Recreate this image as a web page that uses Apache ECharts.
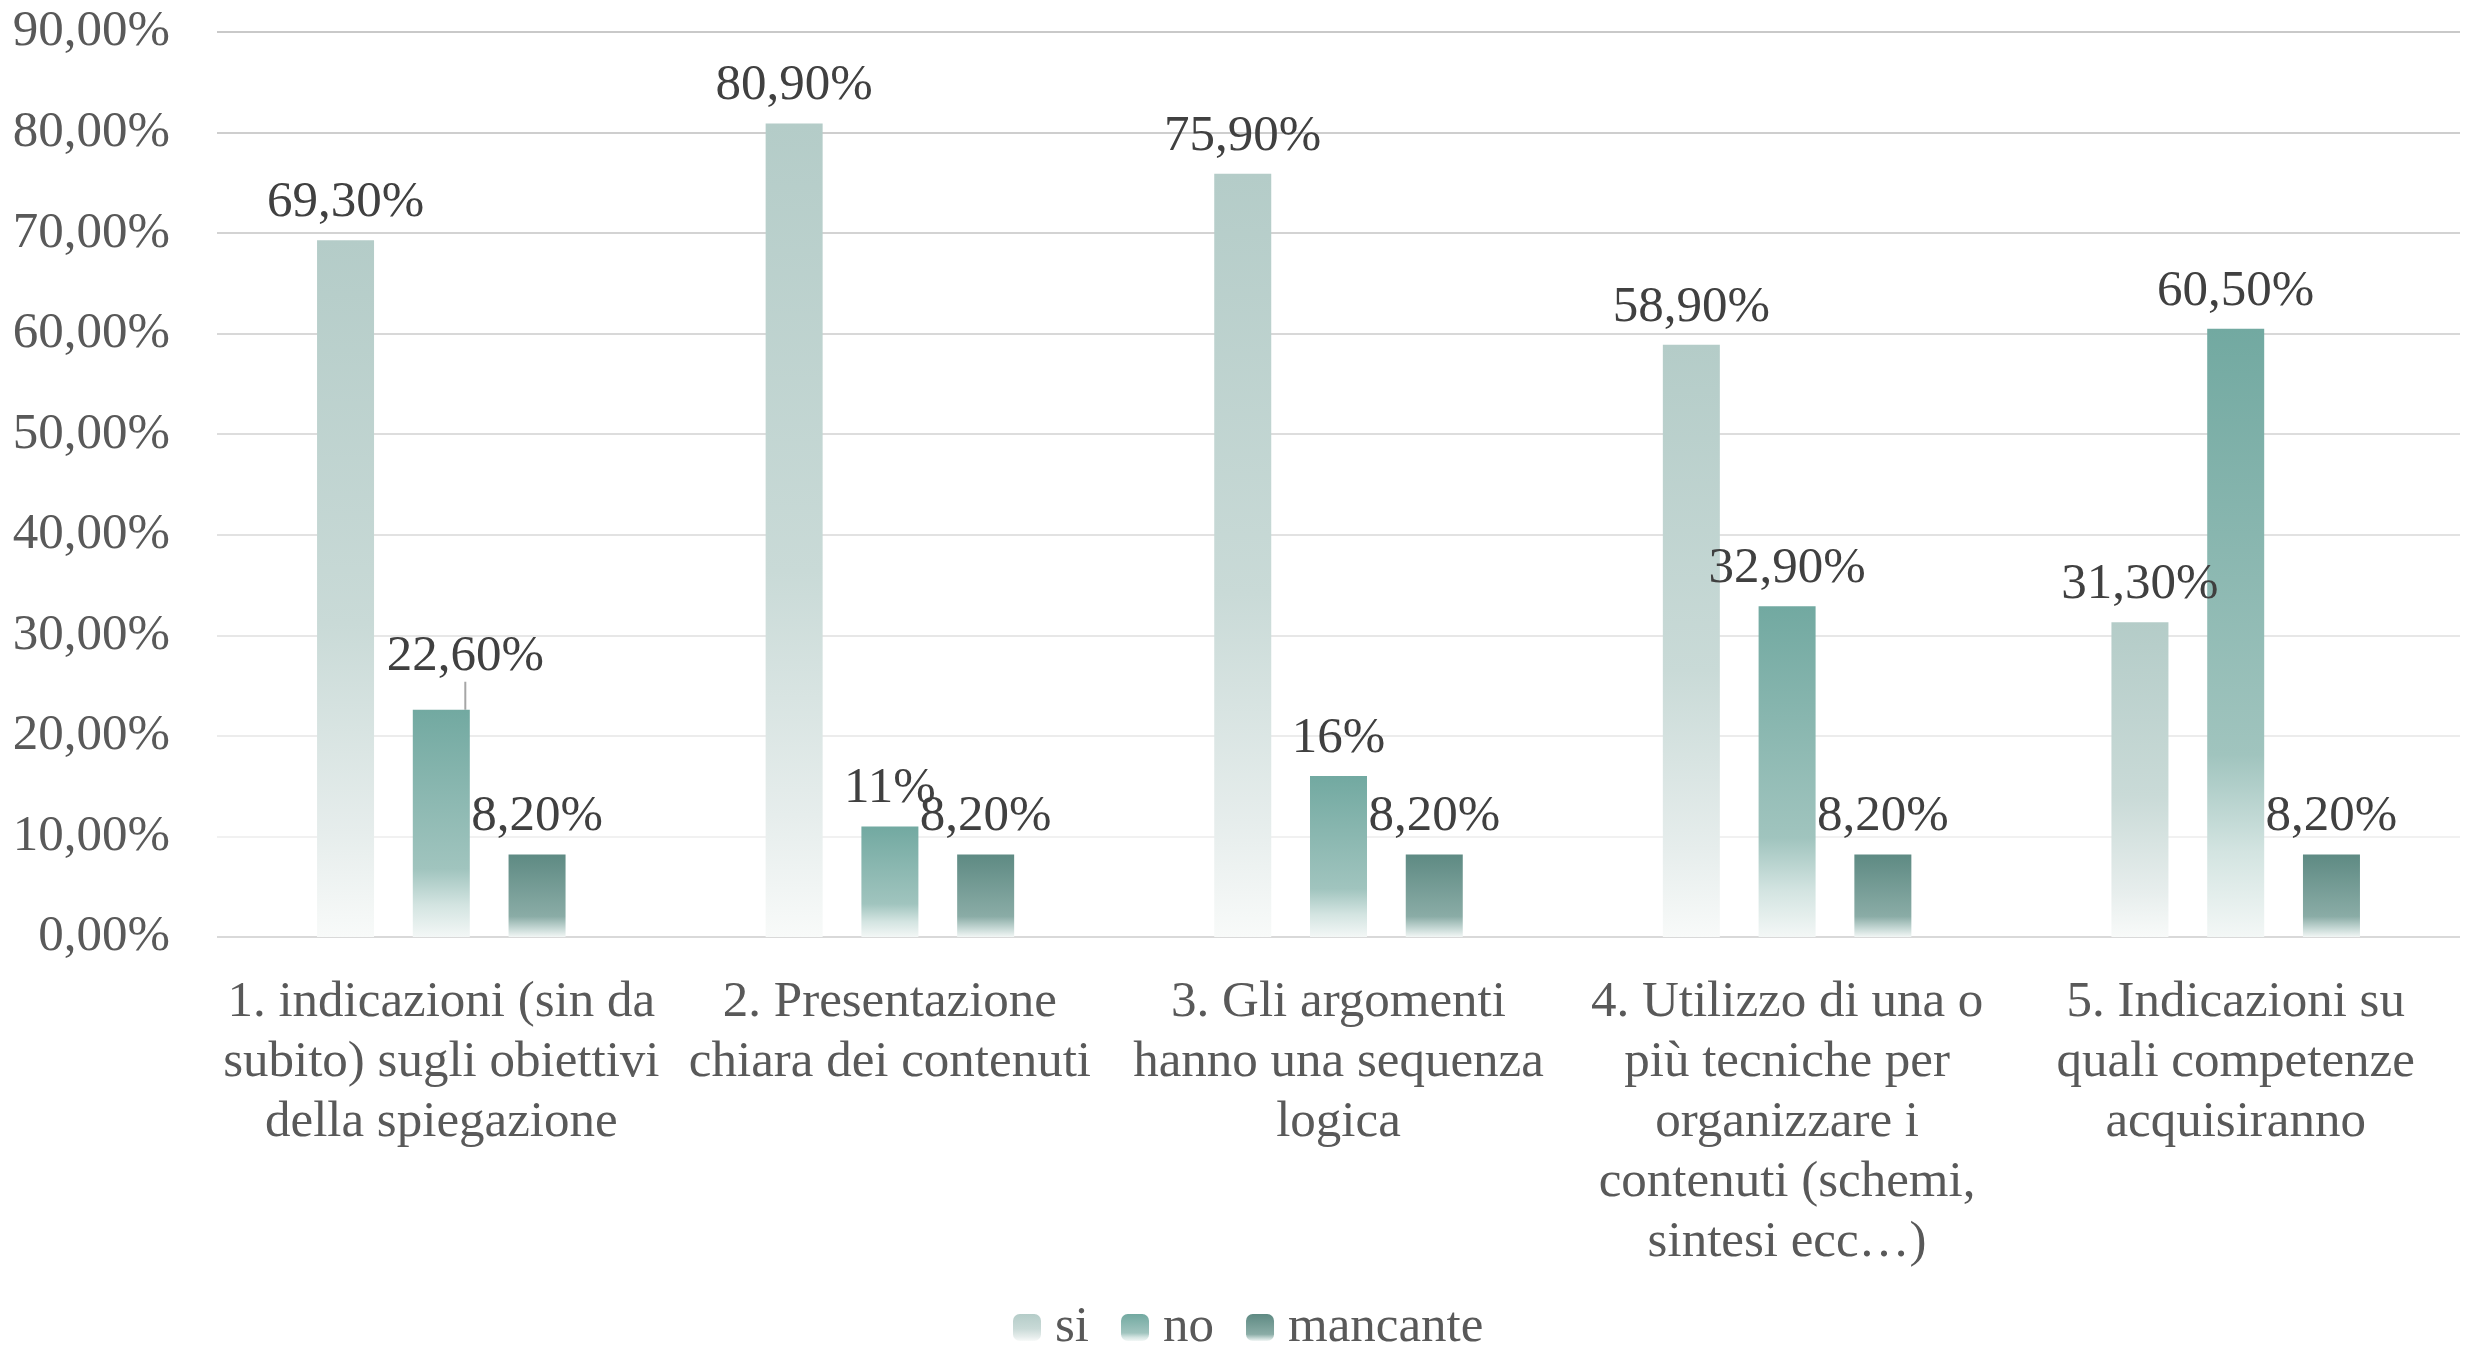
<!DOCTYPE html>
<html>
<head>
<meta charset="utf-8">
<script src="https://cdn.jsdelivr.net/npm/echarts@6/dist/echarts.min.js"></script>
<style>
  html, body { margin: 0; padding: 0; background: #fff; }
  #chart { width: 2465px; height: 1347px; }
</style>
</head>
<body>
<div id="chart"></div>
<script>
var categories = [
  "1. indicazioni (sin da\nsubito) sugli obiettivi\ndella spiegazione",
  "2. Presentazione\nchiara dei contenuti",
  "3. Gli argomenti\nhanno una sequenza\nlogica",
  "4. Utilizzo di una o\npiù tecniche per\norganizzare i\ncontenuti (schemi,\nsintesi ecc…)",
  "5. Indicazioni su\nquali competenze\nacquisiranno"
];
var siValues = [69.3, 80.9, 75.9, 58.9, 31.3];
var noValues = [22.6, 11, 16, 32.9, 60.5];
var mancanteValues = [8.2, 8.2, 8.2, 8.2, 8.2];
var seriesNames = ["si", "no", "mancante"];

var FONT = "'Liberation Serif', 'Times New Roman', serif";

function grad(stops) {
  return new echarts.graphic.LinearGradient(0, 0, 0, 1, stops.map(function (s) {
    return { offset: s[0], color: s[1] };
  }));
}

function pctLabel(v) {
  if (Math.round(v) === v) return v + "%";
  return v.toFixed(2).replace(".", ",") + "%";
}

var colors = {
  si: grad([[0, "#b4ccc8"], [0.55, "#c9dad7"], [0.85, "#e6edec"], [1, "#f8faf9"]]),
  no: grad([[0, "#72a9a1"], [0.7, "#a0c4be"], [0.86, "#d3e4e1"], [1, "#f3f7f6"]]),
  mancante: grad([[0, "#5e8a83"], [0.75, "#8aaca6"], [0.9, "#c7d9d6"], [1, "#f2f6f5"]])
};

var myChart = echarts.init(document.getElementById("chart"));

function makeSeries(name, data) {
  return {
    name: name,
    type: "bar",
    data: data,
    barWidth: 57,
    barGap: "68%",
    itemStyle: { color: colors[name] },
    label: {
      show: true,
      position: "top",
      distance: 12,
      fontFamily: FONT,
      fontSize: 51,
      color: "#404040",
      formatter: function (p) { return pctLabel(p.value); }
    }
  };
}

// the first "no" label sits off the bar, with a small leader line
var noData = noValues.map(function (v, i) {
  if (i === 0) {
    return { value: v, labelLine: { show: true, lineStyle: { color: "#a6a6a6", width: 2 } } };
  }
  return v;
});
var noSeries = makeSeries("no", noData);
noSeries.labelLayout = function (p) {
  if (p.dataIndex === 0) return { dx: 24, dy: -16 };
  return {};
};

myChart.setOption({
  animation: false,
  grid: { left: 217, right: 5, top: 32, bottom: 410 },
  legend: {
    data: seriesNames,
    left: 1008,
    top: 1297,
    itemWidth: 28,
    itemHeight: 27,
    itemGap: 32,
    textStyle: { fontFamily: FONT, fontSize: 51, color: "#595959", padding: [0, 0, 0, 9] }
  },
  xAxis: {
    type: "category",
    data: categories,
    axisTick: { show: false },
    axisLine: { show: false },
    axisLabel: {
      interval: 0,
      margin: 36,
      fontFamily: FONT,
      fontSize: 51,
      lineHeight: 60,
      color: "#595959",
      align: "center"
    }
  },
  yAxis: {
    type: "value",
    min: 0,
    max: 90,
    interval: 10,
    axisLine: { show: false },
    axisTick: { show: false },
    axisLabel: {
      margin: 47,
      fontFamily: FONT,
      fontSize: 51,
      color: "#595959",
      formatter: function (v) { return v.toFixed(2).replace(".", ",") + "%"; }
    },
    splitLine: {
      lineStyle: {
        width: 2,
        color: ["#d9d9d9", "#f1f1f1", "#ececec", "#e7e7e7", "#e2e2e2",
                "#dddddd", "#d8d8d8", "#d3d3d3", "#cecece", "#c9c9c9"]
      }
    }
  },
  series: [
    makeSeries("si", siValues),
    noSeries,
    makeSeries("mancante", mancanteValues)
  ]
});
</script>
</body>
</html>
